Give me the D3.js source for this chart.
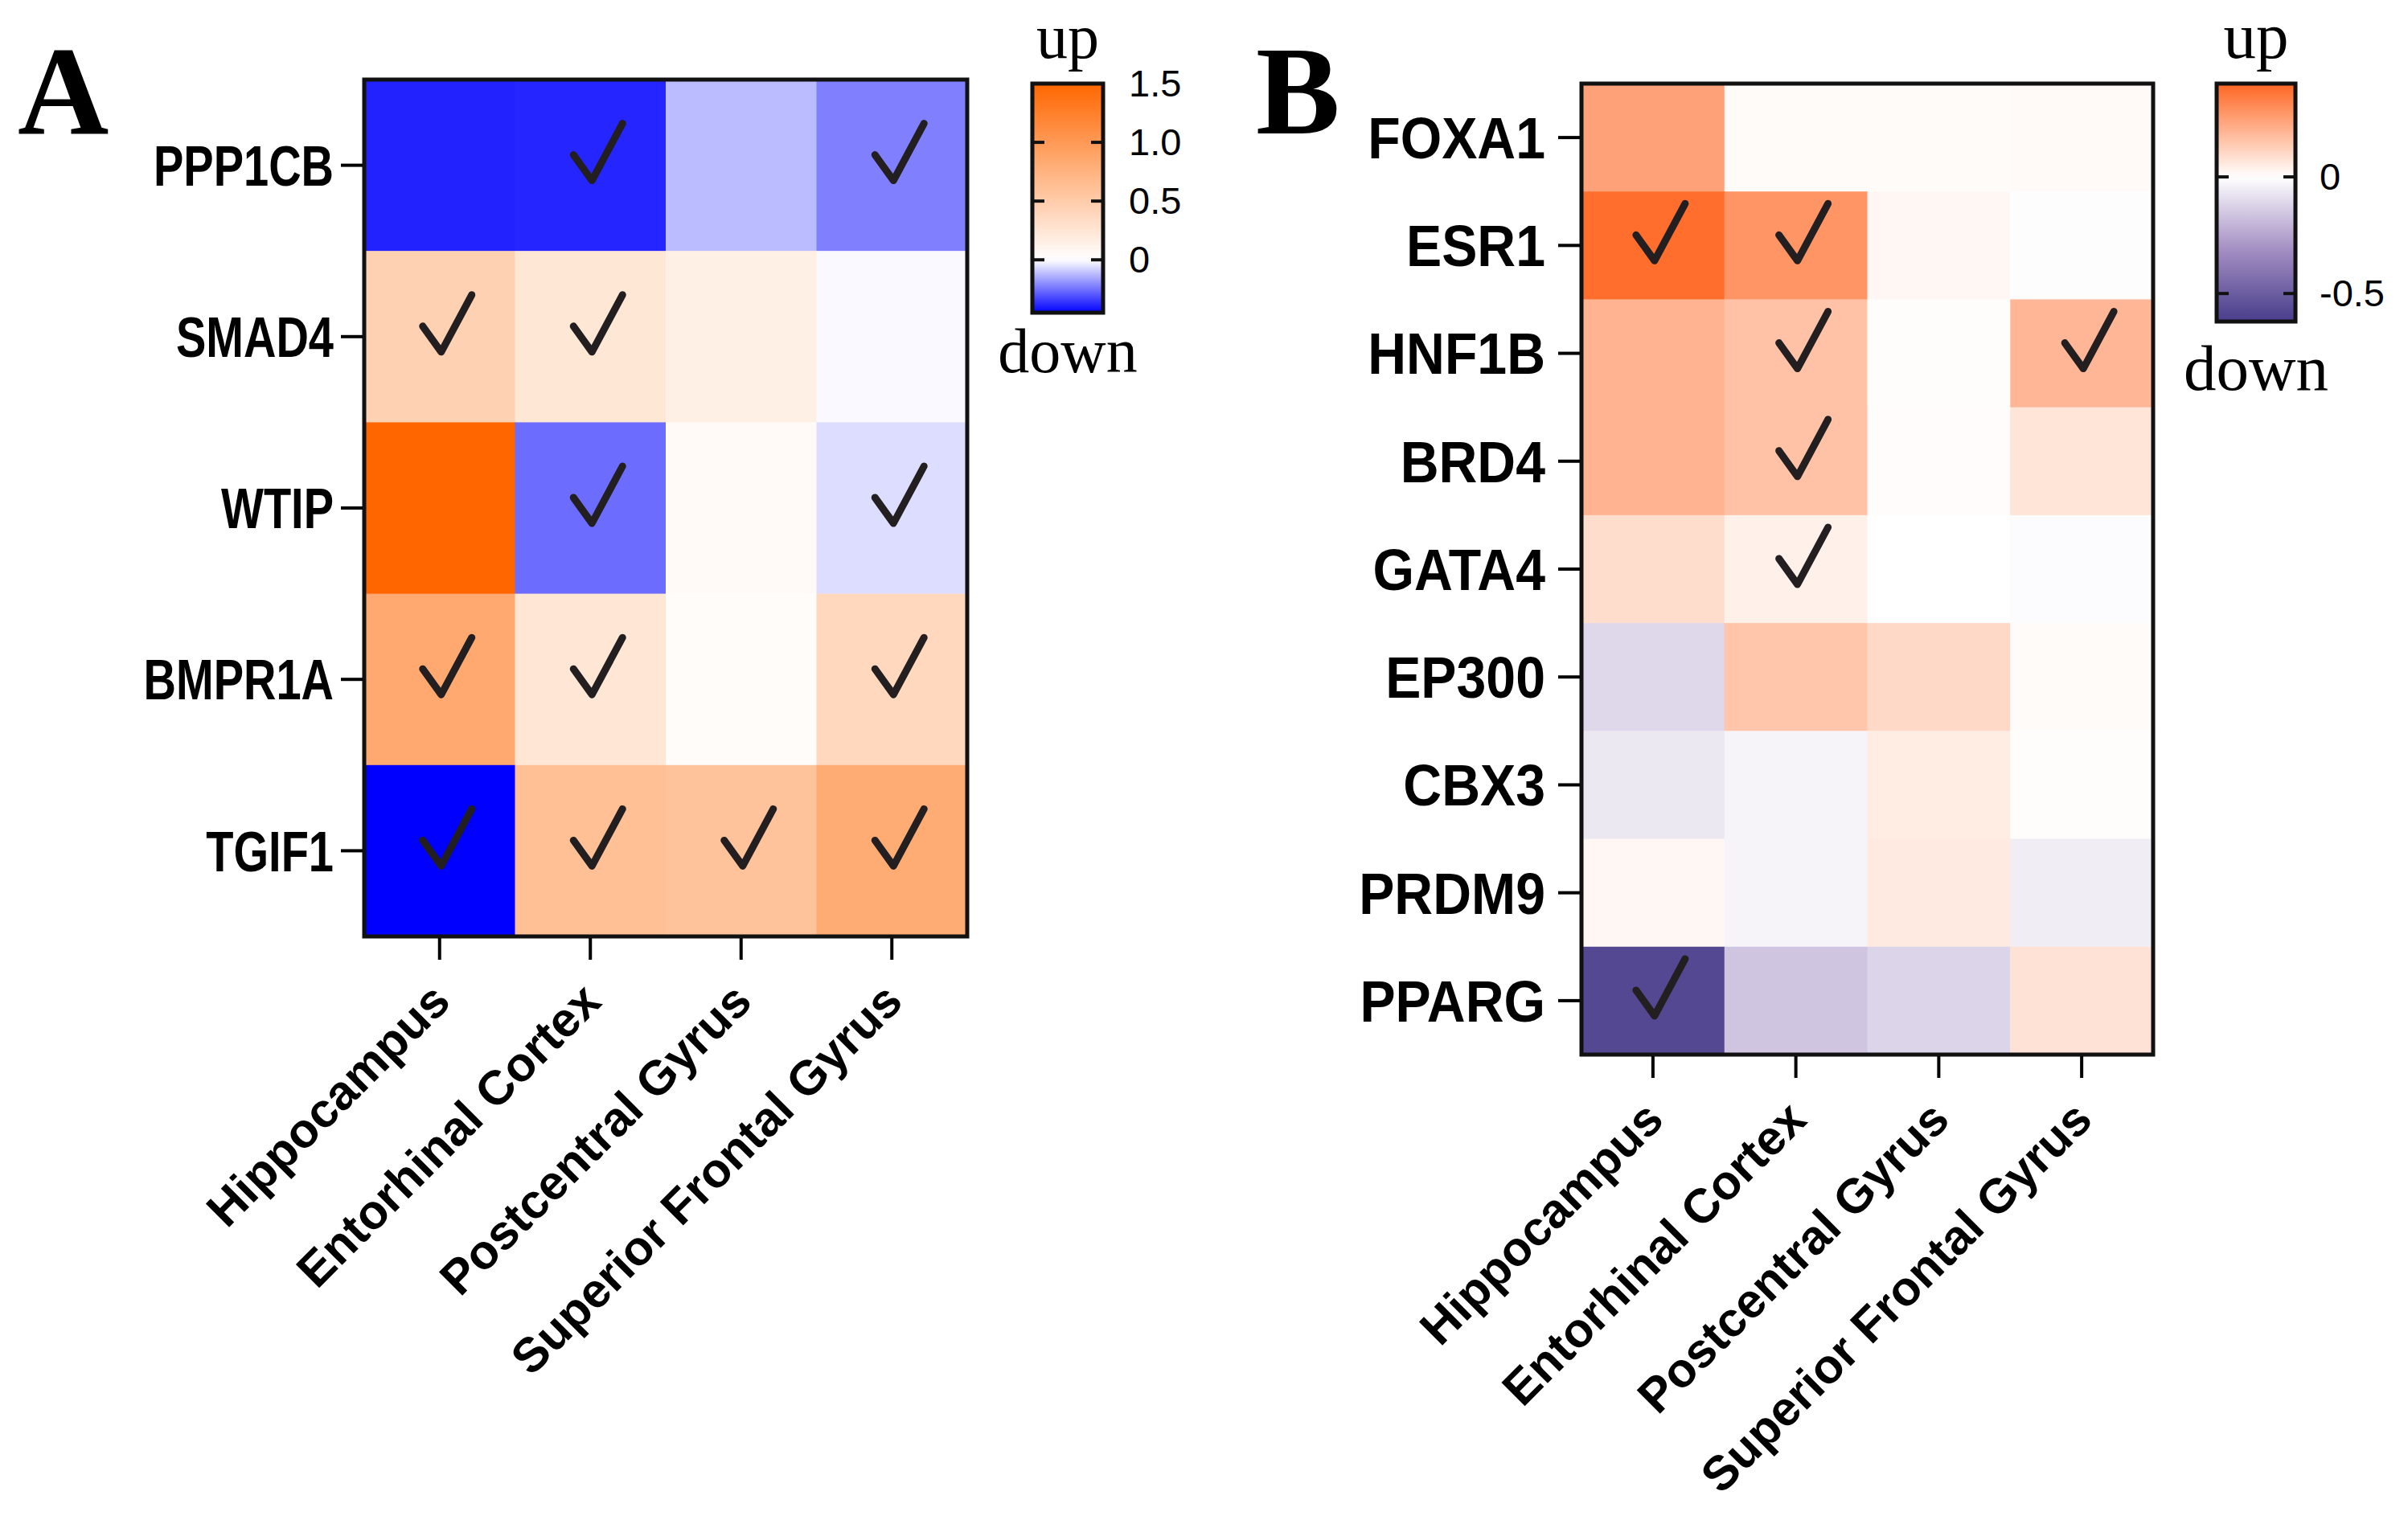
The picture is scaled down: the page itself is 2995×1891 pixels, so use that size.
<!DOCTYPE html>
<meta charset="UTF-8">
<html>
<head>
<script src="https://cdn.jsdelivr.net/npm/d3@7"></script>
<style>
  body { margin: 0; background: #fff; }
  text { fill: #000; }
</style>
</head>
<body>
<div id="chart"></div>
<script>
// ---- data ----
var regions = ["Hippocampus", "Entorhinal Cortex", "Postcentral Gyrus", "Superior Frontal Gyrus"];

var genesA = ["PPP1CB", "SMAD4", "WTIP", "BMPR1A", "TGIF1"];
var valuesA = [
  [-0.39, -0.385, -0.12, -0.225],
  [0.45, 0.24, 0.15, -0.01],
  [1.5, -0.26, 0.05, -0.06],
  [0.85, 0.25, 0.03, 0.38],
  [-0.45, 0.62, 0.59, 0.82]
];
var checksA = [
  [0, 1, 0, 1],
  [1, 1, 0, 0],
  [0, 1, 0, 1],
  [1, 1, 0, 1],
  [1, 1, 1, 1]
];
var ticksA = [1.5, 1.0, 0.5, 0];
var tickLabelsA = ["1.5", "1.0", "0.5", "0"];

var genesB = ["FOXA1", "ESR1", "HNF1B", "BRD4", "GATA4", "EP300", "CBX3", "PRDM9", "PPARG"];
var valuesB = [
  [0.245, 0.01, 0.01, 0.015],
  [0.38, 0.28, 0.02, -0.005],
  [0.2, 0.16, 0.005, 0.19],
  [0.2, 0.16, 0.008, 0.07],
  [0.09, 0.04, 0, -0.01],
  [-0.11, 0.15, 0.1, 0.01],
  [-0.065, -0.03, 0.05, 0.005],
  [0.02, -0.03, 0.055, -0.05],
  [-0.58, -0.16, -0.12, 0.075]
];
var checksB = [
  [0, 0, 0, 0],
  [1, 1, 0, 0],
  [0, 1, 0, 1],
  [0, 1, 0, 0],
  [0, 1, 0, 0],
  [0, 0, 0, 0],
  [0, 0, 0, 0],
  [0, 0, 0, 0],
  [1, 0, 0, 0]
];
var ticksB = [0, -0.5];
var tickLabelsB = ["0", "-0.5"];

var W = 2995, H = 1891;
var svg = d3.select("#chart").append("svg")
  .attr("width", W).attr("height", H)
  .style("background", "#fff");

var defs = svg.append("defs");

function drawPanel(p) {
  var g = svg.append("g");

  var x = d3.scaleBand().domain(regions).range([p.left, p.right]);
  var y = d3.scaleBand().domain(p.genes).range([p.top, p.bottom]);
  var color = d3.scaleLinear().domain(p.colorDomain).range(p.colorRange);

  // cells
  var cells = [];
  p.values.forEach(function (row, i) {
    row.forEach(function (v, j) {
      cells.push({ gene: p.genes[i], region: regions[j], value: v, check: p.checks[i][j] });
    });
  });

  g.selectAll("rect.cell")
    .data(cells).enter()
    .append("rect")
    .attr("class", "cell")
    .attr("x", function (d) { return x(d.region); })
    .attr("y", function (d) { return y(d.gene); })
    .attr("width", x.bandwidth() + 0.5)
    .attr("height", y.bandwidth() + 0.5)
    .attr("fill", function (d) { return color(d.value); });

  // check marks
  g.selectAll("path.check")
    .data(cells.filter(function (d) { return d.check; })).enter()
    .append("path")
    .attr("class", "check")
    .attr("d", function (d) {
      var cx = x(d.region) + x.bandwidth() / 2, cy = y(d.gene) + y.bandwidth() / 2;
      return "M" + (cx - 21) + "," + (cy - 13) + "L" + (cx + 2) + "," + (cy + 19) + "L" + (cx + 40) + "," + (cy - 52);
    })
    .attr("fill", "none")
    .attr("stroke", "#231f20")
    .attr("stroke-width", 9)
    .attr("stroke-linecap", "round")
    .attr("stroke-linejoin", "round");

  // frame
  g.append("rect")
    .attr("x", p.left).attr("y", p.top)
    .attr("width", p.right - p.left).attr("height", p.bottom - p.top)
    .attr("fill", "none").attr("stroke", "#111").attr("stroke-width", 5);

  // left axis (genes)
  var yAxis = g.append("g")
    .attr("transform", "translate(" + (p.left - 2) + ",0)")
    .call(d3.axisLeft(y).tickSize(p.tickLen).tickSizeOuter(0).tickPadding(p.rowPad));
  yAxis.select(".domain").remove();
  yAxis.selectAll(".tick line").attr("stroke", "#000").attr("stroke-width", 4);
  yAxis.selectAll(".tick text")
    .style("font-family", "'Liberation Sans', Arial, sans-serif")
    .style("font-weight", "bold")
    .style("font-size", p.rowFont + "px")
    .attr("fill", "#000")
    .attr("x", -(p.tickLen + p.rowPad) / p.rowSqueeze)
    .attr("dy", "0.36em")
    .attr("transform", "scale(" + p.rowSqueeze + ",1)");

  // bottom axis (regions)
  var xAxis = g.append("g")
    .attr("transform", "translate(0," + (p.bottom + 2) + ")")
    .call(d3.axisBottom(x).tickSize(p.tickLen).tickSizeOuter(0));
  xAxis.select(".domain").remove();
  xAxis.selectAll(".tick line").attr("stroke", "#000").attr("stroke-width", 4);
  xAxis.selectAll(".tick text")
    .style("font-family", "'Liberation Sans', Arial, sans-serif")
    .style("font-weight", "bold")
    .style("font-size", "60px")
    .attr("fill", "#000")
    .attr("text-anchor", "end")
    .attr("y", 0).attr("dy", 0)
    .attr("transform", "translate(16," + (p.tickLen + 55) + ") rotate(-45)");

  // panel letter
  g.append("text")
    .attr("x", p.letterX).attr("y", 166)
    .style("font-family", "'Liberation Serif', 'Times New Roman', serif")
    .style("font-weight", "bold")
    .style("font-size", "157px")
    .text(p.letter);

  // colour bar
  var min = p.colorDomain[0], max = p.colorDomain[p.colorDomain.length - 1];
  var cb = d3.scaleLinear().domain([min, max]).range([p.cbBottom, p.cbTop]);
  var gradId = "grad" + p.letter;
  var grad = defs.append("linearGradient")
    .attr("id", gradId)
    .attr("x1", 0).attr("y1", 1).attr("x2", 0).attr("y2", 0);
  var stops = d3.range(0, 41).map(function (i) { return min + (max - min) * i / 40; });
  grad.selectAll("stop")
    .data(stops).enter()
    .append("stop")
    .attr("offset", function (d) { return (d - min) / (max - min); })
    .attr("stop-color", function (d) { return color(d); });

  var cbW = p.cbRight - p.cbLeft;
  g.append("rect")
    .attr("x", p.cbLeft).attr("y", p.cbTop)
    .attr("width", cbW).attr("height", p.cbBottom - p.cbTop)
    .attr("fill", "url(#" + gradId + ")")
    .attr("stroke", "#111").attr("stroke-width", 5);

  g.selectAll("line.cbtickL")
    .data(p.ticks).enter()
    .append("line")
    .attr("x1", p.cbLeft).attr("x2", p.cbLeft + 15)
    .attr("y1", function (d) { return cb(d); }).attr("y2", function (d) { return cb(d); })
    .attr("stroke", "#111").attr("stroke-width", 4);
  g.selectAll("line.cbtickR")
    .data(p.ticks).enter()
    .append("line")
    .attr("x1", p.cbRight - 15).attr("x2", p.cbRight)
    .attr("y1", function (d) { return cb(d); }).attr("y2", function (d) { return cb(d); })
    .attr("stroke", "#111").attr("stroke-width", 4);

  var cbAxis = g.append("g")
    .attr("transform", "translate(" + p.cbRight + ",0)")
    .call(d3.axisRight(cb).tickValues(p.ticks).tickSize(0).tickPadding(p.cbPad)
      .tickFormat(function (d, i) { return p.tickLabels[i]; }));
  cbAxis.select(".domain").remove();
  cbAxis.selectAll(".tick text")
    .style("font-family", "'Liberation Sans', Arial, sans-serif")
    .style("font-size", "47px")
    .attr("fill", "#000");

  var cbMid = (p.cbLeft + p.cbRight) / 2;
  g.append("text")
    .attr("x", cbMid).attr("y", 72)
    .attr("text-anchor", "middle")
    .style("font-family", "'Liberation Serif', 'Times New Roman', serif")
    .style("font-size", p.udFont + "px")
    .text("up");
  g.append("text")
    .attr("x", cbMid).attr("y", p.downY)
    .attr("text-anchor", "middle")
    .style("font-family", "'Liberation Serif', 'Times New Roman', serif")
    .style("font-size", p.udFont + "px")
    .text("down");
}

drawPanel({
  letter: "A", letterX: 22,
  genes: genesA, values: valuesA, checks: checksA,
  left: 453, right: 1203, top: 99, bottom: 1165,
  colorDomain: [-0.45, 0, 1.5], colorRange: ["#0000ff", "#ffffff", "#ff6600"],
  tickLen: 27, rowPad: 9, rowFont: 70, rowSqueeze: 0.8,
  cbLeft: 1284, cbRight: 1372, cbTop: 104, cbBottom: 389,
  ticks: ticksA, tickLabels: tickLabelsA, cbPad: 32,
  udFont: 78, downY: 463
});

drawPanel({
  letter: "B", letterX: 1562,
  genes: genesB, values: valuesB, checks: checksB,
  left: 1967, right: 2678, top: 104, bottom: 1312,
  colorDomain: [-0.62, -0.31, 0, 0.4], colorRange: ["#483d8b", "#a48fc3", "#ffffff", "#ff6622"],
  tickLen: 27, rowPad: 16, rowFont: 72, rowSqueeze: 0.92,
  cbLeft: 2757, cbRight: 2855, cbTop: 104, cbBottom: 400,
  ticks: ticksB, tickLabels: tickLabelsB, cbPad: 30,
  udFont: 81, downY: 485
});
</script>
</body>
</html>
